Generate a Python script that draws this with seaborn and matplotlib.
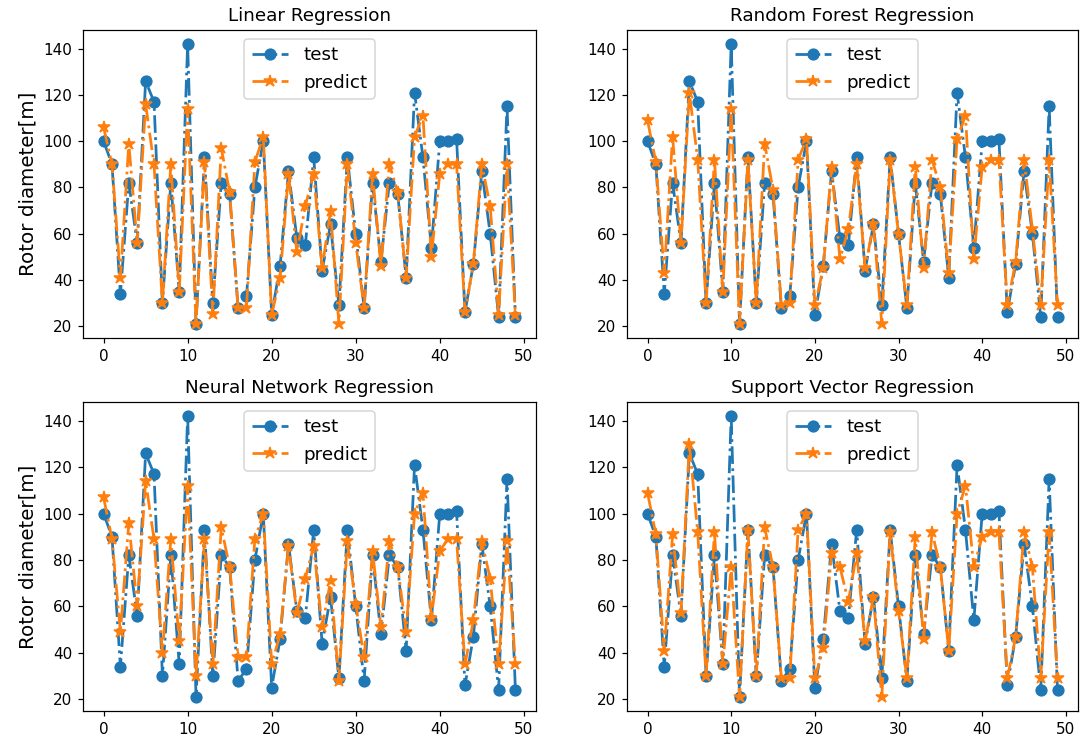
import numpy as np
import pandas as pd
import matplotlib
matplotlib.use("Agg")
import matplotlib.pyplot as plt
import seaborn as sns

# Rotor diameter of the test set and the predictions of each model
sample_index = list(range(50))
y_test = [100, 90, 34, 82, 56, 126, 117, 30, 82, 35, 142, 21, 93, 30, 82, 77, 28, 33, 80, 100,
          25, 46, 87, 58, 55, 93, 44, 64, 29, 93, 60, 28, 82, 48, 82, 77, 41, 121, 93, 54,
          100, 100, 101, 26, 47, 87, 60, 24, 115, 24]
pred_linear = [106, 90, 41, 99, 56, 116, 90, 30, 90, 35, 114, 21, 91, 25.5, 97, 78, 28, 28, 91, 102,
               25, 41, 86, 52, 72, 86, 45, 70, 21, 90, 56, 28, 86, 46, 90, 78, 41, 102, 111, 50,
               86, 90, 90, 26, 47, 90, 72, 25, 90, 25]
pred_forest = [109, 91, 43, 102, 56, 121, 92, 30, 92, 35, 114, 21, 92, 30, 99, 79, 29, 30, 92, 101,
               29, 45, 89, 49, 62, 90, 45, 64, 21, 92, 60, 29, 89, 45, 92, 80, 43, 101, 111, 49,
               89, 92, 92, 29, 48, 92, 62, 29, 92, 29]
pred_neural = [107, 89, 49, 96, 60, 114, 89, 40, 89, 45, 112, 30, 89, 35, 94, 77, 38, 38, 89, 100,
               35, 48, 86, 57, 72, 86, 51, 71, 28, 88, 61, 38, 84, 51, 88, 77, 49, 100, 109, 55,
               84, 89, 89, 35, 54, 88, 72, 35, 88, 35]
pred_svr = [109, 91, 41, 91, 57, 130, 92, 30, 92, 35, 77, 21, 93, 30, 94, 77, 29, 29, 93, 100,
            29, 42, 83, 77, 62, 83, 45, 64, 21, 92, 58, 29, 90, 46, 92, 77, 41, 100, 112, 77,
            90, 92, 92, 29, 47, 92, 77, 29, 92, 29]

titles = ["Linear Regression", "Random Forest Regression",
          "Neural Network Regression", "Support Vector Regression"]
predictions = [pred_linear, pred_forest, pred_neural, pred_svr]
series_labels = ["test", "predict"]
ylabel = "Rotor diameter[m]"

DPI = 110
fig = plt.figure(figsize=(1081 / DPI, 744 / DPI), dpi=DPI)
fig.patch.set_facecolor("white")

# axes boxes in pixels (left, top, right, bottom), converted to figure fractions below
W, H = 1081, 744
rects = [
    (83, 30, 536, 338), (627, 30, 1078, 338),
    (83, 402, 536, 711), (627, 402, 1078, 711),
]

blue = "#1f77b4"
orange = "#ff7f0e"

for k, (title, pred) in enumerate(zip(titles, predictions)):
    x0, y0, x1, y1 = rects[k]
    ax = fig.add_axes([x0 / W, 1 - y1 / H, (x1 - x0) / W, (y1 - y0) / H])
    df = pd.DataFrame({"idx": sample_index, "test": y_test, "predict": pred})
    sns.lineplot(data=df, x="idx", y="test", ax=ax, color=blue, linestyle="-.",
                 marker="o", markersize=7, markeredgecolor=blue, markeredgewidth=1,
                 linewidth=1.8, label=series_labels[0])
    sns.lineplot(data=df, x="idx", y="predict", ax=ax, color=orange, linestyle="-.",
                 marker="*", markersize=8.5, markeredgecolor=orange, markeredgewidth=1,
                 linewidth=1.8, label=series_labels[1])
    ax.set_title(title, fontsize=12)
    ax.set_xlabel("")
    ax.set_xticks([0, 10, 20, 30, 40, 50])
    ax.set_yticks([20, 40, 60, 80, 100, 120, 140])
    ax.tick_params(labelsize=10)
    if k % 2 == 0:
        ax.set_ylabel(ylabel, fontsize=13)
    else:
        ax.set_ylabel("")
    ax.legend(loc="upper center", fontsize=12)

fig.savefig("out.png", dpi=DPI)
